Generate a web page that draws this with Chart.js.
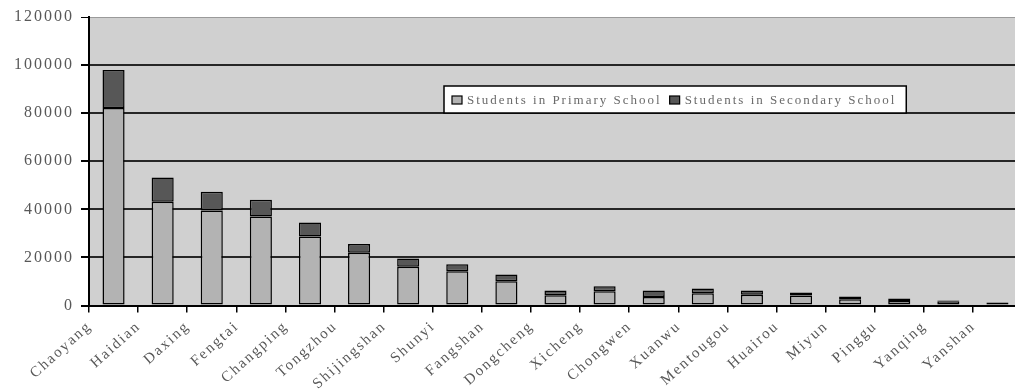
<!DOCTYPE html>
<html>
<head>
<meta charset="utf-8">
<script src="https://cdn.jsdelivr.net/npm/chart.js@4/dist/chart.umd.min.js"></script>
<style>
  html, body { margin: 0; padding: 0; background: #fff; overflow: hidden; }
  #wrap { width: 1030px; height: 390px; position: relative; }
</style>
</head>
<body>
<div id="wrap"><canvas id="students"></canvas></div>
<script>
const districts = ['Chaoyang', 'Haidian', 'Daxing', 'Fengtai', 'Changping', 'Tongzhou', 'Shijingshan',
  'Shunyi', 'Fangshan', 'Dongcheng', 'Xicheng', 'Chongwen', 'Xuanwu', 'Mentougou', 'Huairou',
  'Miyun', 'Pinggu', 'Yanqing', 'Yanshan'];
const primaryStudents = [82200, 43200, 39500, 37000, 28700, 21900, 16100, 14200, 10100, 4300, 5900,
  3500, 5100, 4500, 4200, 2600, 1900, 1800, 400];
const secondaryStudents = [15800, 10000, 7800, 7000, 5800, 3700, 3400, 3000, 2800, 1900, 2100,
  2700, 2000, 1700, 1200, 1100, 1000, 300, 800];
const yTicks = [0, 20000, 40000, 60000, 80000, 100000, 120000];

const serif = '"Liberation Serif", "DejaVu Serif", serif';
const textGrey = '#585858';

// the old print style spreads the letters out a bit
const spacing = {
  id: 'spacing',
  beforeUpdate(chart) { chart.ctx.letterSpacing = '2px'; },
  beforeDraw(chart) { chart.ctx.letterSpacing = '2px'; }
};

// grey plot background
const plotFill = {
  id: 'plotFill',
  beforeDraw(chart) {
    const { ctx, chartArea: a } = chart;
    ctx.save();
    ctx.fillStyle = '#d0d0d0';
    ctx.fillRect(a.left, a.top, a.right - a.left, a.bottom - a.top);
    ctx.restore();
  }
};

// boxed legend sitting inside the plot
const boxLegend = {
  id: 'boxLegend',
  afterDatasetsDraw(chart) {
    const { ctx, chartArea: a } = chart;
    const left = a.left + 355, top = a.top + 69, h = 27;
    ctx.save();
    ctx.letterSpacing = '2px';
    ctx.font = '13px ' + serif;
    let x = left + 8;
    const items = chart.data.datasets.map(ds => {
      const item = { ds, x };
      x += 15 + ctx.measureText(ds.label).width + 8;
      return item;
    });
    const w = x - left + 2;
    ctx.fillStyle = '#fff';
    ctx.fillRect(left, top, w, h);
    ctx.strokeStyle = '#000';
    ctx.lineWidth = 1.5;
    ctx.strokeRect(left, top, w, h);
    items.forEach(({ ds, x }) => {
      ctx.fillStyle = ds.backgroundColor;
      ctx.fillRect(x, top + 10, 10, 8);
      ctx.lineWidth = 1.2;
      ctx.strokeRect(x, top + 10, 10, 8);
      ctx.fillStyle = '#6a6a6a';
      ctx.textBaseline = 'middle';
      ctx.textAlign = 'left';
      ctx.fillText(ds.label, x + 15, top + h / 2 + 1);
    });
    ctx.restore();
  }
};

const ctx = document.getElementById('students').getContext('2d');
new Chart(ctx, {
  type: 'bar',
  data: {
    labels: districts,
    datasets: [
      {
        label: 'Students in Primary School',
        data: primaryStudents,
        backgroundColor: '#b3b3b3',
        borderColor: '#000',
        borderWidth: 1.5,
        borderSkipped: false,
        barPercentage: 0.45,
        categoryPercentage: 1
      },
      {
        label: 'Students in Secondary School',
        data: secondaryStudents,
        backgroundColor: '#575757',
        borderColor: '#000',
        borderWidth: 1.5,
        borderSkipped: false,
        barPercentage: 0.45,
        categoryPercentage: 1
      }
    ]
  },
  options: {
    responsive: true,
    maintainAspectRatio: false,
    animation: false,
    layout: { padding: { top: 17, right: 8, left: 0, bottom: 0 } },
    plugins: {
      legend: { display: false },
      tooltip: { enabled: false }
    },
    scales: {
      x: {
        stacked: true,
        afterFit: (scale) => { scale.height = 84.5; },
        border: { color: '#000', width: 2 },
        grid: {
          offset: true,
          drawOnChartArea: false,
          drawTicks: true,
          tickLength: 7,
          color: '#000',
          lineWidth: 1.5
        },
        ticks: {
          autoSkip: false,
          minRotation: 42,
          maxRotation: 42,
          labelOffset: -24,
          padding: 5,
          color: textGrey,
          font: { family: serif, size: 15 }
        }
      },
      y: {
        stacked: true,
        min: 0,
        max: 120000,
        afterFit: (scale) => { scale.width = 89; },
        afterBuildTicks: (scale) => { scale.ticks = yTicks.map(v => ({ value: v })); },
        border: { color: '#000', width: 2 },
        grid: {
          drawTicks: true,
          tickLength: 8,
          tickColor: '#000',
          lineWidth: (c) => (c.tick && c.tick.value === 120000 ? 1 : 2),
          color: (c) => (c.tick && c.tick.value === 120000 ? '#9a9a9a' : '#262626')
        },
        ticks: {
          padding: 7,
          color: textGrey,
          font: { family: serif, size: 16 },
          callback: (v) => String(v)
        }
      }
    }
  },
  plugins: [spacing, plotFill, boxLegend]
});
</script>
</body>
</html>
